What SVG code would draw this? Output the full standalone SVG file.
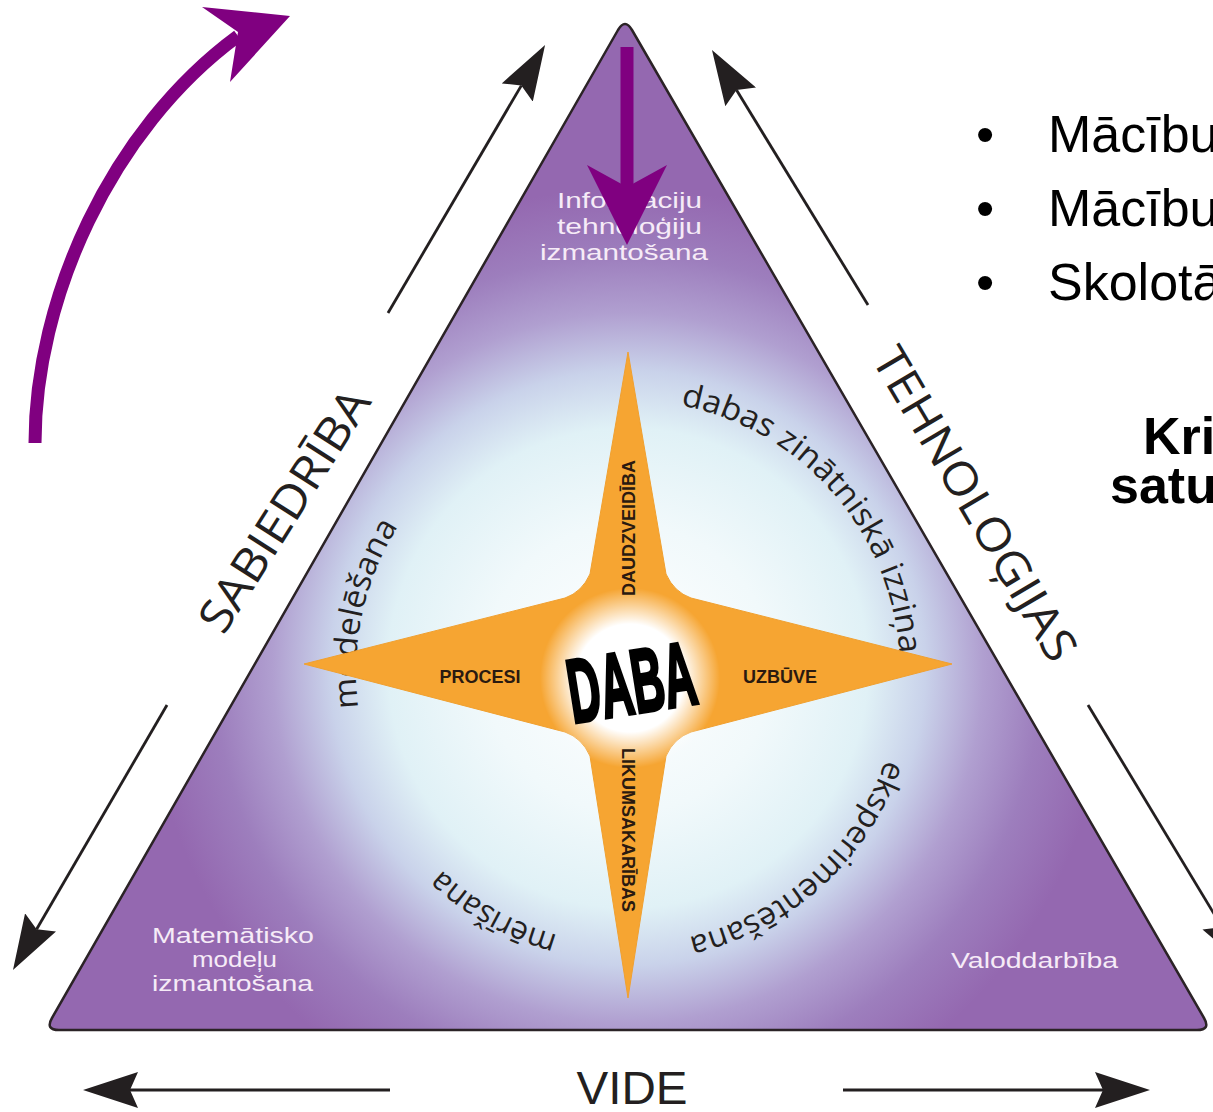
<svg xmlns="http://www.w3.org/2000/svg" width="1213" height="1112" viewBox="0 0 1213 1112">
<defs>
<style>
.arc{font-family:"Open Sans","Liberation Sans",sans-serif;font-size:32px;fill:#231f20}
.inner{font-family:"Liberation Sans",Arial,sans-serif;font-size:22px;fill:#f6ebf7}
.slbl{font-family:"Liberation Sans",Arial,sans-serif;font-size:18px;font-weight:bold;fill:#2a1a10}
.edge{font-family:"Open Sans","Liberation Sans",sans-serif;font-size:46px;fill:#231f20}
.conn{stroke:#231f20;stroke-width:2.8;fill:none;marker-end:url(#ah)}
.slide{font-family:"Liberation Sans",Arial,sans-serif;font-size:52px;fill:#000}
.purple{fill:#800080}
</style>
<radialGradient id="bg" gradientUnits="userSpaceOnUse" cx="628" cy="668" r="480">
<stop offset="0" stop-color="#ffffff"/>
<stop offset="0.3" stop-color="#f1f9fb"/>
<stop offset="0.5" stop-color="#e0f1f6"/>
<stop offset="0.62" stop-color="#c9d2ea"/>
<stop offset="0.74" stop-color="#b09fd0"/>
<stop offset="0.86" stop-color="#9d7ebd"/>
<stop offset="1" stop-color="#9468b0"/>
</radialGradient>
<radialGradient id="core" cx="0.5" cy="0.5" r="0.5">
<stop offset="0" stop-color="#ffffff"/>
<stop offset="0.6" stop-color="#ffffff"/>
<stop offset="1" stop-color="#ffffff" stop-opacity="0"/>
</radialGradient>
<path id="ring" d="M900,672 A272,272 0 1 1 356,672 A272,272 0 1 1 900,672"/>
<marker id="ah" viewBox="0 0 55 36" markerWidth="55" markerHeight="36" refX="8" refY="18" orient="auto" markerUnits="userSpaceOnUse">
<path d="M0,0 L55,18 L0,36 L8,18 Z" fill="#231f20"/>
</marker>
</defs>
<rect width="1213" height="1112" fill="#ffffff"/>

<g id="triangle">
<path d="M618,30 Q625,18 632,30 L1204,1018 Q1211,1030 1197,1030 L59,1030 Q45,1030 52,1018 Z" fill="url(#bg)" stroke="#2b2326" stroke-width="2.5" stroke-linejoin="round"/>
</g>

<g id="corner-top">
<text class="inner" x="557" y="208" textLength="145" lengthAdjust="spacingAndGlyphs">Informaciju</text>
<text class="inner" x="557" y="234" textLength="145" lengthAdjust="spacingAndGlyphs">tehnoloģiju</text>
<text class="inner" x="540" y="260" textLength="168" lengthAdjust="spacingAndGlyphs">izmantošana</text>
</g>
<g id="corner-left">
<text class="inner" x="152" y="943" textLength="162" lengthAdjust="spacingAndGlyphs">Matemātisko</text>
<text class="inner" x="192" y="967" textLength="85" lengthAdjust="spacingAndGlyphs">modeļu</text>
<text class="inner" x="152" y="991" textLength="161" lengthAdjust="spacingAndGlyphs">izmantošana</text>
</g>
<g id="corner-right">
<text class="inner" x="951" y="968" textLength="167" lengthAdjust="spacingAndGlyphs">Valoddarbība</text>
</g>

<g id="ring-labels">
<text class="arc"><textPath href="#ring" startOffset="1334" textLength="356" lengthAdjust="spacingAndGlyphs">dabas zinātniskā izziņa</textPath></text>
<text class="arc"><textPath href="#ring" startOffset="89" textLength="277" lengthAdjust="spacingAndGlyphs">eksperimentēšana</textPath></text>
<text class="arc"><textPath href="#ring" startOffset="498" textLength="135" lengthAdjust="spacingAndGlyphs">mērīšana</textPath></text>
<text class="arc"><textPath href="#ring" startOffset="818" textLength="190" lengthAdjust="spacingAndGlyphs">modelēšana</textPath></text>
</g>

<g id="star">
<path d="M628,352 L590,574 Q582,592 565,598 L304,664 L565,732 Q582,738 590,756 L628,998 L666,756 Q674,738 691,732 L952,664 L691,598 Q674,592 666,574 Z" fill="#f6a532" stroke="#f0a030" stroke-width="1" stroke-linejoin="round"/>
<circle cx="630" cy="678" r="90" fill="url(#core)"/>
<text x="0" y="23" transform="translate(631,679) rotate(-9) scale(0.74,1.5)" text-anchor="middle" font-family="Liberation Sans, Arial, sans-serif" font-size="60" font-weight="bold" fill="#000" stroke="#000" stroke-width="2.4">DABA</text>
<text class="slbl" x="480" y="683" text-anchor="middle">PROCESI</text>
<text class="slbl" x="780" y="683" text-anchor="middle">UZBŪVE</text>
<text class="slbl" x="0" y="0" transform="translate(634.5,528) rotate(-90)" text-anchor="middle">DAUDZVEIDĪBA</text>
<text class="slbl" x="0" y="0" transform="translate(621.5,830) rotate(90)" text-anchor="middle">LIKUMSAKARĪBAS</text>
</g>

<g id="side-labels">
<text class="edge" x="0" y="0" transform="translate(298,519) rotate(-57.6)" text-anchor="middle" textLength="278" lengthAdjust="spacingAndGlyphs">SABIEDRĪBA</text>
<text class="edge" x="0" y="0" transform="translate(961,512) rotate(59.5)" text-anchor="middle" textLength="356" lengthAdjust="spacingAndGlyphs">TEHNOLOĢIJAS</text>
<text x="632" y="1104" text-anchor="middle" font-family="Liberation Sans, Arial, sans-serif" font-size="46" fill="#231f20" textLength="111" lengthAdjust="spacingAndGlyphs">VIDE</text>
</g>

<g id="connectors">
<line class="conn" x1="388" y1="313" x2="521.3" y2="85.6"/>
<line class="conn" x1="868" y1="305" x2="736.5" y2="90"/>
<line class="conn" x1="167" y1="705" x2="36.6" y2="929.3"/>
<line class="conn" x1="1088" y1="705" x2="1222" y2="927"/>
<line class="conn" x1="390" y1="1090" x2="130" y2="1090"/>
<line class="conn" x1="843" y1="1090" x2="1103" y2="1090"/>
<path d="M35,443 C35,300 110,130 238,36" fill="none" stroke="#800080" stroke-width="13"/>
<polygon class="purple" points="290,16 202,7 238,32 230,82"/>
<line x1="627" y1="47" x2="627" y2="190" stroke="#800080" stroke-width="13"/>
<polygon class="purple" points="627,245 587,165 627,187 667,165"/>
</g>

<g id="slide-text">
<text class="slide" x="985" y="152" text-anchor="middle">•</text>
<text class="slide" x="985" y="226" text-anchor="middle">•</text>
<text class="slide" x="985" y="300" text-anchor="middle">•</text>
<text class="slide" x="1048" y="152">Mācību</text>
<text class="slide" x="1048" y="226">Mācību</text>
<text class="slide" x="1048" y="300">Skolotā</text>
<text class="slide" x="1143" y="454" font-weight="bold" font-size="45">Kri</text>
<text class="slide" x="1110" y="503" font-weight="bold" font-size="45">satu</text>
</g>
</svg>
